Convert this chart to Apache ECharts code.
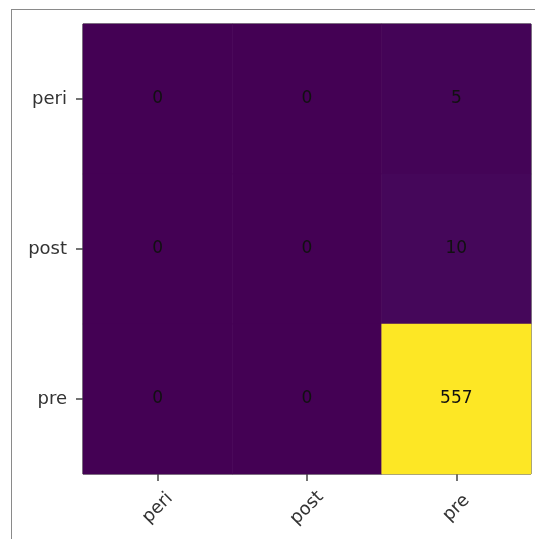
<!DOCTYPE html>
<html>
<head>
<meta charset="utf-8">
<style>
  html, body { margin: 0; padding: 0; background: #fff; }
  #chart { width: 535px; height: 539px; }
</style>
<script src="https://cdn.jsdelivr.net/npm/echarts@6/dist/echarts.min.js"></script>
</head>
<body>
<div id="chart"></div>
<script>
// Confusion matrix: rows = true label, columns = predicted label
const predictedLabels = ['peri', 'post', 'pre'];
const trueLabels = ['peri', 'post', 'pre'];
const rowPeri = [0, 0, 5];
const rowPost = [0, 0, 10];
const rowPre = [0, 0, 557];

const matrix = [rowPeri, rowPost, rowPre];
const cells = [];
matrix.forEach((row, r) => {
  row.forEach((v, c) => cells.push([c, r, v]));
});

const viridis = ['#440154', '#482878', '#3e4989', '#31688e', '#26828e',
  '#1f9e89', '#35b779', '#6ece58', '#b5de2b', '#fde725'];

const chart = echarts.init(document.getElementById('chart'), null, { renderer: 'canvas' });
chart.setOption({
  animation: false,
  backgroundColor: '#fff',
  graphic: [
    { type: 'line', shape: { x1: 11, y1: 9.5, x2: 535, y2: 9.5 }, style: { stroke: '#8a8a8a', lineWidth: 1 } },
    { type: 'line', shape: { x1: 11.5, y1: 9, x2: 11.5, y2: 539 }, style: { stroke: '#8a8a8a', lineWidth: 1 } }
  ],
  grid: {
    left: 83, top: 24, width: 448, height: 450,
    show: true, borderColor: '#222', borderWidth: 1, backgroundColor: 'transparent'
  },
  xAxis: {
    type: 'category',
    data: predictedLabels,
    axisLine: { show: false },
    axisTick: { show: true, alignWithLabel: true, length: 7, lineStyle: { color: '#444', width: 1.5 } },
    axisLabel: {
      rotate: 45, margin: 34, align: 'center', verticalAlign: 'middle', color: '#333',
      fontFamily: 'DejaVu Sans', fontSize: 18
    },
    splitLine: { show: false }
  },
  yAxis: {
    type: 'category',
    data: trueLabels,
    inverse: true,
    axisLine: { show: false },
    axisTick: { show: true, alignWithLabel: true, length: 7, lineStyle: { color: '#444', width: 1.5 } },
    axisLabel: { margin: 16, color: '#333', fontFamily: 'DejaVu Sans', fontSize: 18 },
    splitLine: { show: false }
  },
  visualMap: {
    show: false, type: 'continuous', min: 0, max: 557, dimension: 2,
    inRange: { color: viridis }
  },
  series: [{
    type: 'heatmap',
    data: cells,
    label: {
      show: true, color: '#111', fontFamily: 'DejaVu Sans', fontSize: 17,
      formatter: p => String(p.value[2])
    },
    itemStyle: { borderWidth: 0 },
    emphasis: { disabled: true }
  }]
});
</script>
</body>
</html>
